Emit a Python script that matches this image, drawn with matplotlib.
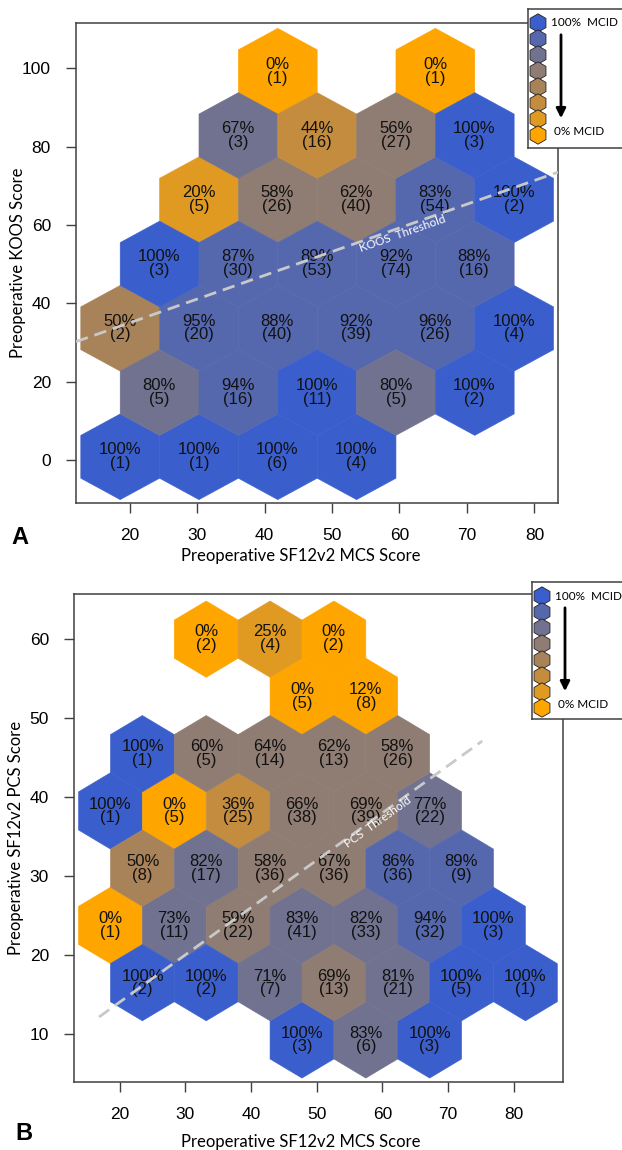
import numpy as np
import matplotlib
matplotlib.use("Agg")
import matplotlib.pyplot as plt
from matplotlib.colors import ListedColormap, BoundaryNorm

# Panel A: hex cell centres (MCS, KOOS), % reaching MCID, patients per cell
mcs_a = [41.9, 65.3,
         36.1, 47.8, 59.5, 71.1,
         30.3, 41.9, 53.6, 65.3, 77.0,
         24.4, 36.1, 47.8, 59.5, 71.1,
         18.6, 30.3, 41.9, 53.6, 65.3, 77.0,
         24.4, 36.1, 47.8, 59.5, 71.1,
         18.6, 30.3, 41.9, 53.6]
koos_a = [99.3, 99.3,
          82.9, 82.9, 82.9, 82.9,
          66.5, 66.5, 66.5, 66.5, 66.5,
          50.1, 50.1, 50.1, 50.1, 50.1,
          33.7, 33.7, 33.7, 33.7, 33.7, 33.7,
          17.2, 17.2, 17.2, 17.2, 17.2,
          0.8, 0.8, 0.8, 0.8]
pct_a = [0, 0,
         67, 44, 56, 100,
         20, 58, 62, 83, 100,
         100, 87, 89, 92, 88,
         50, 95, 88, 92, 96, 100,
         80, 94, 100, 80, 100,
         100, 100, 100, 100]
n_a = [1, 1,
       3, 16, 27, 3,
       5, 26, 40, 54, 2,
       3, 30, 53, 74, 16,
       2, 20, 40, 39, 26, 4,
       5, 16, 11, 5, 2,
       1, 1, 6, 4]

# Panel B: hex cell centres (MCS, PCS)
mcs_b = [33.2, 42.9, 52.6,
         47.8, 57.5,
         23.5, 33.2, 42.9, 52.6, 62.3,
         18.6, 28.3, 38.0, 47.8, 57.5, 67.2,
         23.5, 33.2, 42.9, 52.6, 62.3, 72.0,
         18.6, 28.3, 38.0, 47.8, 57.5, 67.2, 76.9,
         23.5, 33.2, 42.9, 52.6, 62.3, 72.0, 81.8,
         47.8, 57.5, 67.2]
pcs_b = [60.0, 60.0, 60.0,
         52.7, 52.7,
         45.5, 45.5, 45.5, 45.5, 45.5,
         38.2, 38.2, 38.2, 38.2, 38.2, 38.2,
         30.9, 30.9, 30.9, 30.9, 30.9, 30.9,
         23.7, 23.7, 23.7, 23.7, 23.7, 23.7, 23.7,
         16.4, 16.4, 16.4, 16.4, 16.4, 16.4, 16.4,
         9.2, 9.2, 9.2]
pct_b = [0, 25, 0,
         0, 12,
         100, 60, 64, 62, 58,
         100, 0, 36, 66, 69, 77,
         50, 82, 58, 67, 86, 89,
         0, 73, 59, 83, 82, 94, 100,
         100, 100, 71, 69, 81, 100, 100,
         100, 83, 100]
n_b = [2, 4, 2,
       5, 8,
       1, 5, 14, 13, 26,
       1, 5, 25, 38, 39, 22,
       8, 17, 36, 36, 36, 9,
       1, 11, 22, 41, 33, 32, 3,
       2, 2, 7, 13, 21, 5, 1,
       3, 6, 3]

# threshold lines (start and end point)
koos_thr = [(12.05, 30.2), (83.5, 73.5)]
pcs_thr = [(16.86, 12.1), (75.2, 47.05)]

# 0% MCID (orange) ... 100% MCID (blue)
level_colors = ['#FFA500', '#E09A22', '#C48C3E', '#A8835A',
                '#8F7C72', '#707290', '#5568AE', '#3A5FCD']
cmap = ListedColormap(level_colors)

W, H = 622, 1150
fig = plt.figure(figsize=(W / 100, H / 100), dpi=100)
num_font = 'Liberation Sans'
lab_font = 'Lato'


def px_axes(left, top, right, bottom):
    return fig.add_axes([left / W, 1 - bottom / H, (right - left) / W, (bottom - top) / H])


def hex_panel(ax, x, y, pct, n, extent, gridsize, bounds, thr, thr_text, thr_pos):
    norm = BoundaryNorm(bounds, cmap.N)
    ax.hexbin(x, y, C=pct, gridsize=gridsize, extent=extent, cmap=cmap, norm=norm,
              reduce_C_function=np.mean, mincnt=1, edgecolors='face', linewidths=0.4,
              zorder=1)
    for xi, yi, p, c in zip(x, y, pct, n):
        ax.text(xi, yi, f"{p}%\n({c})", ha='center', va='center', fontsize=12,
                family=num_font, color='#111111', linespacing=0.9, zorder=3)
    (x0, y0), (x1, y1) = thr
    ax.plot([x0, x1], [y0, y1], color='#C9C9C9', lw=2, ls=(0, (4.5, 2.5)), zorder=4)
    ang = np.degrees(np.arctan2(y1 - y0, x1 - x0))
    ax.text(thr_pos[0], thr_pos[1], thr_text, rotation=ang, rotation_mode='anchor',
            transform_rotates_text=True, ha='center', va='top', color='white',
            fontsize=8.5, family=lab_font, zorder=5)
    for s in ax.spines.values():
        s.set_color('#404040')
        s.set_linewidth(1.1)
    ax.tick_params(length=7, width=1, color='#404040', labelsize=12.5, pad=11)


def mcid_legend(left, top, bottom):
    lg = px_axes(left, top, left + 110, bottom)
    lg.set_xlim(0, 110)
    lg.set_ylim(bottom - top, 0)
    lg.set_zorder(10)
    lg.set_xticks([])
    lg.set_yticks([])
    for s in lg.spines.values():
        s.set_color('#404040')
        s.set_linewidth(1.1)
    step = 16.0
    ys = 14 + step * np.arange(8)
    lg.scatter(np.full(8, 10), ys, s=175, marker='h', c=level_colors[::-1],
               edgecolors='#222222', linewidths=0.6, zorder=2)
    lg.text(23, ys[0], "100%  MCID", va='center', ha='left', fontsize=8.5, family=lab_font)
    lg.text(26, ys[-1] - 4, "0% MCID", va='center', ha='left', fontsize=8.5, family=lab_font)
    lg.annotate("", xy=(33, ys[-1] - 14), xytext=(33, ys[0] + 9),
                arrowprops=dict(arrowstyle='-|>', color='black', lw=2, mutation_scale=14))


def set_ticks(ax, xt, yt):
    ax.set_xticks(xt)
    ax.set_yticks(yt)
    for lab in ax.get_xticklabels() + ax.get_yticklabels():
        lab.set_family(num_font)


# ---- panel A
ax_a = px_axes(76, 23, 558, 503)
hex_panel(ax_a, mcs_a, koos_a, pct_a, n_a,
          extent=(18.6, 18.6 + 6 * 11.68, 0.8, 0.8 + 3 * 32.83), gridsize=(6, 3),
          bounds=[-1, 10, 32, 47, 53, 64, 81.5, 99.5, 101],
          thr=koos_thr, thr_text="KOOS  Threshold", thr_pos=(60.2, 59.0))
ax_a.set_xlim(12.05, 83.5)
ax_a.set_ylim(-11.0, 111.6)
set_ticks(ax_a, range(20, 81, 10), range(0, 101, 20))
fig.text(18 / W, 1 - 263 / H, "Preoperative KOOS Score", rotation=90, ha='center',
         va='center', family=lab_font, fontsize=12)
fig.text(301 / W, 1 - 556 / H, "Preoperative SF12v2 MCS Score", ha='center', va='center',
         family=lab_font, fontsize=12)
fig.text(20 / W, 1 - 538 / H, "A", ha='center', va='center', fontsize=17,
         fontweight='bold', family=num_font)
mcid_legend(528, 9, 148)

# ---- panel B
ax_b = px_axes(74, 594, 563, 1082)
hex_panel(ax_b, mcs_b, pcs_b, pct_b, n_b,
          extent=(18.6, 18.6 + 7 * 9.72, 9.2, 9.2 + 4 * 14.5), gridsize=(7, 4),
          bounds=[-1, 13, 30, 45, 55, 70, 84, 99.5, 101],
          thr=pcs_thr, thr_text="PCS  Threshold", thr_pos=(58.9, 37.3))
ax_b.set_xlim(13.05, 87.5)
ax_b.set_ylim(3.87, 65.67)
set_ticks(ax_b, range(20, 81, 10), range(10, 61, 10))
fig.text(16 / W, 1 - 838 / H, "Preoperative SF12v2 PCS Score", rotation=90, ha='center',
         va='center', family=lab_font, fontsize=12)
fig.text(301 / W, 1 - 1142 / H, "Preoperative SF12v2 MCS Score", ha='center', va='center',
         family=lab_font, fontsize=12)
fig.text(24 / W, 1 - 1133 / H, "B", ha='center', va='center', fontsize=17,
         fontweight='bold', family=num_font)
mcid_legend(532, 582, 719)

fig.savefig("out.png", dpi=100)
